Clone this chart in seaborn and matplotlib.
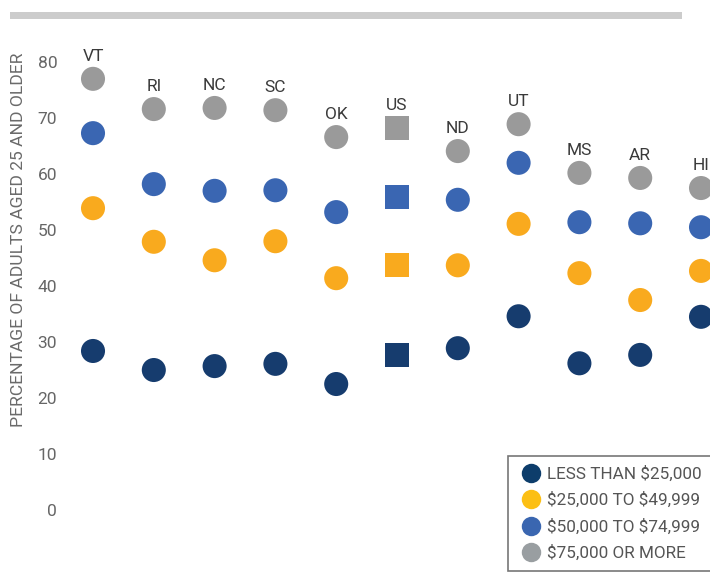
import pandas as pd
import seaborn as sns
import matplotlib.pyplot as plt
from matplotlib.lines import Line2D
from matplotlib.patches import Rectangle

# values (percent of adults aged 25+)
states = ["VT", "RI", "NC", "SC", "OK", "US", "ND", "UT", "MS", "AR", "HI"]
less_25k = [28.4, 25.0, 25.7, 26.1, 22.5, 27.7, 28.9, 34.6, 26.2, 27.7, 34.5]
from_25k_50k = [53.9, 47.9, 44.6, 48.0, 41.4, 43.7, 43.7, 51.1, 42.3, 37.5, 42.7]
from_50k_75k = [67.3, 58.2, 57.0, 57.1, 53.2, 55.9, 55.4, 62.0, 51.4, 51.2, 50.5]
over_75k = [77.0, 71.6, 71.8, 71.4, 66.6, 68.2, 64.1, 68.9, 60.2, 59.3, 57.5]
income_groups = ["LESS THAN $25,000", "$25,000 TO $49,999",
                 "$50,000 TO $74,999", "$75,000 OR MORE"]
y_ticks = [0, 10, 20, 30, 40, 50, 60, 70, 80]

point_colors = ["#163c6e", "#f9aa1e", "#3a66b2", "#9a9a9a"]
legend_colors = ["#0d3d6b", "#fcbf14", "#3a66b0", "#999ea1"]

sns.set_style("white")
plt.rcParams["font.family"] = ["Roboto", "DejaVu Sans"]

# long form table for seaborn
rows = []
for group, values in zip(income_groups, [less_25k, from_25k_50k, from_50k_75k, over_75k]):
    for state, v in zip(states, values):
        rows.append({"state": state, "group": group, "value": v,
                     "kind": "us" if state == "US" else "state"})
df = pd.DataFrame(rows)

fig = plt.figure(figsize=(7.10, 5.74), dpi=100)
ax = fig.add_axes([0.0845, 0.0627, 0.9155, 0.878])

sns.scatterplot(data=df, x="state", y="value", hue="group", style="kind",
                hue_order=income_groups, palette=point_colors,
                markers={"state": "o", "us": "s"}, s=300, linewidth=0,
                legend=False, ax=ax, zorder=3)

# state labels above the top dot
for i, (state, top) in enumerate(zip(states, over_75k)):
    ax.text(i, top + 2.7, state, ha="center", va="bottom",
            fontsize=12.5, color="#3a3a3a")

ax.set_xlim(-0.543, 10.148)
ax.set_ylim(-5, 85)
ax.set_yticks(y_ticks)
ax.set_yticklabels([str(t) for t in y_ticks], fontsize=12.5, color="#666666")
ax.tick_params(axis="y", length=0, pad=2)
ax.set_xticks([])
ax.set_xlabel("")
ax.set_ylabel("PERCENTAGE OF ADULTS AGED 25 AND OLDER", fontsize=12.6,
              color="#6a6a6a")
ax.yaxis.set_label_coords(-0.052, 0.591)
sns.despine(ax=ax, left=True, bottom=True)

# grey rule across the top
fig.patches.append(Rectangle((10 / 710, 1 - 19 / 574), 672 / 710, 7 / 574,
                             transform=fig.transFigure, color="#cccccc",
                             linewidth=0))

handles = [Line2D([], [], marker="o", linestyle="none", markersize=14,
                  markerfacecolor=c, markeredgewidth=0) for c in legend_colors]
labels = [g.replace("$", r"\$") for g in income_groups]
leg = fig.legend(handles, labels, loc="upper left",
                 bbox_to_anchor=(508 / 710, 1 - 456 / 574),
                 fontsize=12.3, frameon=True, fancybox=False,
                 handlelength=1.6, handletextpad=0.15, labelspacing=0.6,
                 borderpad=0.56, borderaxespad=0)
leg.get_frame().set_edgecolor("#555555")
leg.get_frame().set_linewidth(1.2)
for t in leg.get_texts():
    t.set_color("#555555")

fig.savefig("out.png", dpi=100)
